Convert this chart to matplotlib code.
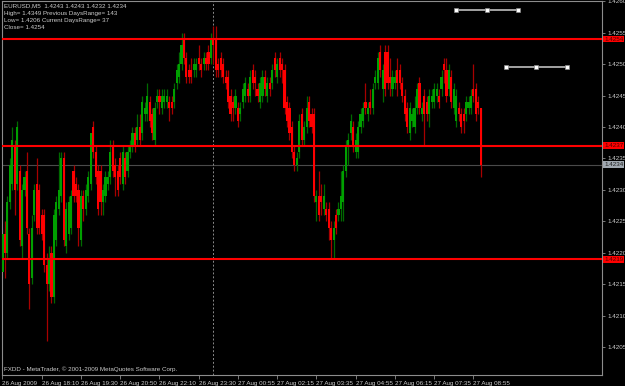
"""MetaTrader style EURUSD M5 candlestick chart."""
import numpy as np
import matplotlib
matplotlib.use('Agg')
import matplotlib.pyplot as plt
from matplotlib import transforms

plt.rcParams['font.family'] = ['Liberation Sans', 'DejaVu Sans']

# Prices are in pips above 1.4200 (e.g. 43 -> 1.4243).
opens = [17, 23, 20, 28, 31, 37, 31, 33, 21, 30, 33, 23, 16, 26, 31, 30, 26, 26, 18, 15,
         20, 13, 22, 27, 29, 35, 21, 23, 24, 33, 31, 30, 22, 29, 27, 29, 31, 40, 36, 33,
         33, 28, 29, 31, 32, 37, 34, 33, 35, 31, 35, 33, 36, 37, 39, 38, 40, 39, 42, 42,
         44, 42, 38, 44, 45, 43, 44, 44, 44, 44, 44, 47, 48, 50, 54, 51, 49, 49, 49, 49,
         51, 50, 50, 51, 52, 51, 54, 54, 50, 51, 50, 48, 48, 45, 44, 43, 43, 42, 44, 45,
         46, 45, 49, 48, 46, 44, 45, 48, 45, 47, 47, 51, 48, 51, 50, 49, 44, 43, 40, 36,
         34, 36, 42, 38, 40, 44, 42, 42, 28, 29, 29, 27, 27, 27, 24, 22, 26, 26, 27, 28,
         33, 37, 39, 40, 36, 36, 40, 41, 44, 42, 44, 43, 47, 47, 52, 46, 52, 52, 48, 46,
         47, 49, 49, 47, 45, 43, 39, 41, 40, 43, 47, 42, 45, 44, 42, 44, 44, 45, 45, 46,
         50, 49, 46, 48, 43, 41, 43, 42, 42, 42, 43, 43, 46, 46, 44, 43]
highs = [24, 25, 29, 35, 40, 38, 41, 34, 31, 33, 36, 24, 26, 31, 35, 31, 27, 27, 20, 21,
         21, 27, 29, 36, 36, 36, 28, 29, 30, 34, 32, 31, 30, 30, 31, 33, 39, 41, 37, 34,
         34, 31, 33, 33, 38, 38, 35, 34, 36, 37, 36, 37, 38, 40, 40, 42, 42, 45, 44, 47,
         45, 43, 44, 46, 46, 46, 46, 46, 45, 45, 47, 50, 52, 55, 55, 52, 50, 51, 51, 51,
         53, 51, 52, 52, 53, 55, 56, 56, 51, 52, 51, 49, 49, 46, 45, 46, 44, 44, 47, 48,
         47, 49, 50, 49, 47, 48, 49, 49, 48, 48, 50, 52, 51, 52, 51, 50, 45, 44, 41, 37,
         36, 42, 43, 41, 45, 45, 43, 43, 30, 33, 31, 31, 28, 28, 25, 25, 27, 28, 33, 34,
         38, 39, 42, 41, 39, 41, 43, 44, 47, 44, 46, 47, 49, 52, 53, 50, 53, 53, 51, 49,
         49, 51, 50, 48, 46, 44, 44, 43, 45, 47, 48, 44, 46, 45, 46, 46, 47, 47, 46, 49,
         51, 51, 50, 49, 47, 46, 44, 43, 43, 45, 45, 46, 50, 47, 45, 43]
lows = [16, 16, 19, 27, 30, 26, 30, 21, 19, 29, 23, 11, 15, 25, 23, 23, 22, 17, 6, 14,
        12, 12, 21, 26, 28, 21, 20, 22, 23, 28, 28, 21, 21, 25, 26, 28, 30, 35, 31, 26,
        26, 26, 28, 30, 31, 32, 29, 29, 31, 30, 31, 32, 35, 36, 36, 37, 37, 38, 41, 41,
        40, 38, 37, 43, 42, 42, 43, 43, 41, 42, 43, 46, 47, 49, 50, 47, 47, 47, 48, 48,
        49, 48, 49, 49, 49, 50, 50, 48, 48, 48, 47, 46, 43, 41, 41, 42, 40, 41, 43, 44,
        44, 44, 46, 45, 44, 43, 44, 45, 44, 45, 46, 48, 47, 48, 47, 42, 40, 38, 35, 33,
        33, 35, 37, 37, 39, 40, 39, 28, 25, 25, 26, 26, 25, 22, 19, 19, 23, 25, 25, 25,
        32, 34, 38, 36, 35, 35, 39, 40, 42, 41, 42, 42, 46, 46, 48, 44, 45, 46, 45, 45,
        46, 45, 46, 44, 41, 39, 38, 40, 39, 42, 42, 41, 37, 41, 40, 43, 43, 44, 43, 45,
        47, 44, 45, 43, 42, 40, 41, 39, 39, 41, 42, 42, 44, 41, 42, 32]
closes = [23, 20, 28, 34, 38, 30, 40, 22, 30, 32, 24, 15, 24, 30, 24, 24, 23, 18, 15, 19,
          13, 26, 28, 30, 35, 22, 27, 28, 29, 29, 29, 24, 29, 27, 30, 32, 39, 36, 32, 27,
          28, 30, 32, 32, 36, 33, 32, 30, 32, 36, 32, 36, 37, 39, 37, 40, 38, 44, 43, 45,
          41, 39, 43, 45, 44, 45, 45, 45, 43, 43, 46, 49, 50, 53, 51, 48, 48, 48, 50, 50,
          50, 49, 51, 50, 50, 54, 53, 49, 49, 49, 48, 47, 44, 42, 43, 45, 41, 43, 46, 47,
          45, 48, 47, 47, 45, 47, 48, 46, 47, 46, 49, 49, 50, 49, 49, 43, 41, 39, 36, 34,
          35, 41, 38, 40, 43, 41, 40, 29, 29, 26, 28, 29, 26, 24, 22, 24, 24, 27, 29, 33,
          37, 38, 41, 37, 38, 40, 42, 43, 43, 43, 43, 46, 48, 51, 49, 49, 46, 47, 47, 48,
          48, 47, 47, 45, 42, 40, 43, 42, 43, 46, 43, 43, 42, 42, 45, 45, 46, 46, 44, 48,
          49, 45, 49, 44, 46, 45, 42, 40, 41, 44, 44, 45, 45, 42, 43, 34]

time_labels = ['26 Aug 2009', '26 Aug 18:10', '26 Aug 19:30', '26 Aug 20:50',
               '26 Aug 22:10', '26 Aug 23:30', '27 Aug 00:55', '27 Aug 02:15',
               '27 Aug 03:35', '27 Aug 04:55', '27 Aug 06:15', '27 Aug 07:35',
               '27 Aug 08:55']
label_step = 16
day_start_bar = 86

level_lines = [1.4254, 1.4237, 1.4219]
bid_price = 1.4234
price_ticks = [1.4205, 1.4210, 1.4215, 1.4220, 1.4225, 1.4230, 1.4235,
               1.4240, 1.4245, 1.4250, 1.4255, 1.4260]

# two marker objects in the upper right
marker_bars_a = [185.1, 197.6, 210.1]
marker_level_a = 1.42586
marker_bars_b = [205.1, 217.6, 230.2]
marker_level_b = 1.42496

info_lines = ['EURUSD,M5  1.4243 1.4243 1.4232 1.4234',
              'High= 1.4349 Previous DaysRange= 143',
              'Low= 1.4206 Current DaysRange= 37',
              'Close= 1.4254']
copyright_text = 'FXDD - MetaTrader, \u00a9 2001-2009 MetaQuotes Software Corp.'

TXT = '#cccccc'
FRAME = '#8c8c8c'
FS = 4.5

o = 1.42 + np.array(opens) / 1e4
h = 1.42 + np.array(highs) / 1e4
l = 1.42 + np.array(lows) / 1e4
c = 1.42 + np.array(closes) / 1e4
x = np.arange(len(closes))
up = c >= o
dn = ~up

fig = plt.figure(figsize=(6.25, 3.86), dpi=100, facecolor='black')
ax = fig.add_axes([1.7 / 625, 11 / 386, 600 / 625, 373.7 / 386])
ax.set_facecolor('black')

# levels and bid line behind the candles
ax.axhline(bid_price, color='#4a4a4a', lw=0.8, zorder=1)
for lvl in level_lines:
    ax.axhline(lvl, color='#ff0000', lw=1.5, zorder=4)
ax.axvline(day_start_bar, color='#8a8a8a', lw=0.7, ls=(0, (2, 2)), zorder=1)

# candles
ax.vlines(x[up], l[up], h[up], color='#006a00', lw=0.9, zorder=2)
ax.vlines(x[dn], l[dn], h[dn], color='#a80000', lw=0.9, zorder=2)
ax.bar(x[up], c[up] - o[up], bottom=o[up], width=0.88, color='#00a000',
       lw=0, zorder=3)
ax.bar(x[dn], c[dn] - o[dn], bottom=o[dn], width=0.88, color='#ff0000',
       lw=0, zorder=3)

for bars, lvl in ((marker_bars_a, marker_level_a), (marker_bars_b, marker_level_b)):
    ax.plot(bars, [lvl] * len(bars), color='#cfcfcf', lw=1.1, marker='s',
            ms=3.2, mfc='white', mec='#8a8a8a', mew=0.5, zorder=5)

ax.set_xlim(-0.3, 244.3)
ax.set_ylim(1.420056, 1.425959)

# right price scale
ax.yaxis.tick_right()
ax.set_yticks(price_ticks)
ax.set_yticklabels(['%.4f' % p for p in price_ticks])
ax.tick_params(axis='y', colors=FRAME, labelcolor=TXT, labelsize=FS,
               length=2.5, width=0.6, pad=1.5)

# time scale
ax.set_xticks(np.arange(len(time_labels)) * label_step)
ax.set_xticklabels(time_labels)
for lab in ax.get_xticklabels():
    lab.set_horizontalalignment('left')
ax.tick_params(axis='x', colors=FRAME, labelcolor=TXT, labelsize=FS,
               length=3, width=0.6, pad=1)

for sp in ax.spines.values():
    sp.set_color(FRAME)
    sp.set_linewidth(0.8)

# price tags on the scale
trans = transforms.blended_transform_factory(ax.transAxes, ax.transData)
for lvl in level_lines:
    ax.text(1.004, lvl, '%.4f' % lvl, transform=trans, ha='left', va='center',
            fontsize=FS, color='#4a0000', clip_on=False, zorder=6,
            bbox=dict(boxstyle='square,pad=0.15', fc='#ff0000', ec='none'))
ax.text(1.004, bid_price, '%.4f' % bid_price, transform=trans, ha='left',
        va='center', fontsize=FS, color='#202020', clip_on=False, zorder=6,
        bbox=dict(boxstyle='square,pad=0.15', fc='#a0a8b0', ec='none'))

for k, line in enumerate(info_lines):
    fig.text(4 / 625, 1 - (6 + 7.2 * k) / 386, line, color=TXT, fontsize=FS,
             ha='left', va='center')
fig.text(4 / 625, 1 - 369 / 386, copyright_text, color=TXT, fontsize=FS,
         ha='left', va='center')

fig.savefig('out.png', dpi=100, facecolor='black')
